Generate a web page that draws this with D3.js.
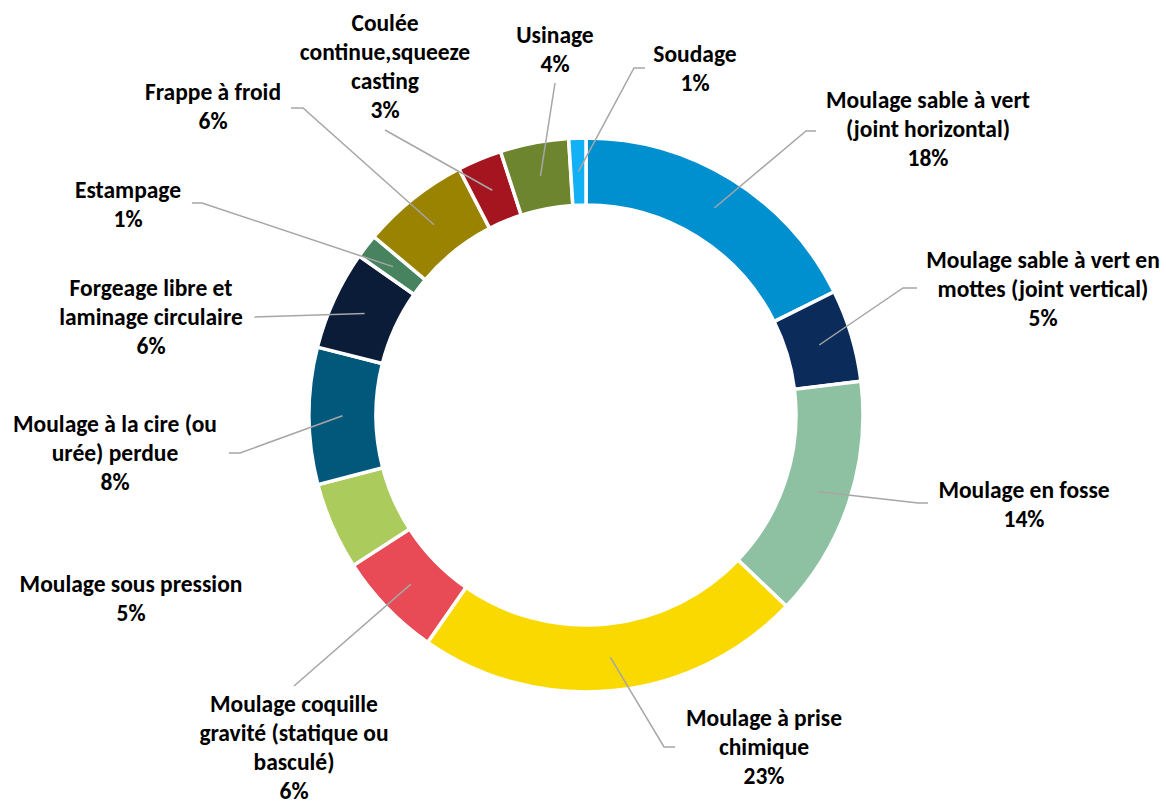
<!DOCTYPE html>
<html>
<head>
<meta charset="utf-8">
<script src="https://cdn.jsdelivr.net/npm/d3@7"></script>
<style>
  body { margin: 0; background: #fff; }
  text { font-family: Calibri, Carlito, Lato, sans-serif; font-weight: bold; fill: #000; }
</style>
</head>
<body>
<div id="container"></div>
<script>
// categories, clockwise from 12 o'clock ("\n" = where the label wraps)
var categories = [
  "Moulage sable à vert\n(joint horizontal)",
  "Moulage sable à vert en\nmottes (joint vertical)",
  "Moulage en fosse",
  "Moulage à prise\nchimique",
  "Moulage coquille\ngravité (statique ou\nbasculé)",
  "Moulage sous pression",
  "Moulage à la cire (ou\nurée) perdue",
  "Forgeage libre et\nlaminage circulaire",
  "Estampage",
  "Frappe à froid",
  "Coulée\ncontinue,squeeze\ncasting",
  "Usinage",
  "Soudage"
];

// share of each process (%)
var values = [17.7, 5.4, 14.1, 22.6, 6.2, 5.1, 8.0, 5.8, 1.4, 6.3, 2.6, 4.0, 1.0];

var colors = ["#008FCF", "#0B2C5A", "#8DC1A1", "#FAD900", "#E84B55", "#ABCC5C",
              "#02587B", "#0A1C38", "#47835F", "#9A8300", "#A5151F", "#6E8530", "#12B1F5"];

// label placement: centre x / first baseline, and leader elbow (ex,ey) + horizontal end hx
var labelPos = [
  {x: 928, y: 108, ex: 806, ey: 131, hx: 816},
  {x: 1043, y: 268, ex: 903, ey: 288, hx: 917},
  {x: 1024, y: 498, ex: 918, ey: 503, hx: 928},
  {x: 764, y: 726, ex: 664, ey: 747, hx: 675},
  {x: 294, y: 712, ex: 294, ey: 686, hx: null},
  {x: 131, y: 592, ex: null},
  {x: 115, y: 432, ex: 240, ey: 453, hx: 229},
  {x: 151, y: 296, ex: 254, ey: 317, hx: null},
  {x: 128, y: 198, ex: 202, ey: 203, hx: 192},
  {x: 213, y: 100, ex: 303, ey: 108, hx: 291},
  {x: 385, y: 31, ex: 385, ey: 130, hx: null},
  {x: 555, y: 43, ex: 555, ey: 83, hx: null},
  {x: 695, y: 62, ex: 634, ey: 68, hx: 645}
];

var width = 1166, height = 805;
var cx = 586, cy = 415;
var outerR = 277, innerR = 210;
var lineH = 29;

var total = d3.sum(values);
var data = categories.map(function(c, i) { return {name: c, value: values[i], i: i}; });

var svg = d3.select("#container")
  .append("svg")
  .attr("width", width)
  .attr("height", height);

var g = svg.append("g")
  .attr("transform", "translate(" + cx + "," + cy + ")");

var pie = d3.pie().sort(null).value(function(d) { return d.value; });
var arc = d3.arc().innerRadius(innerR).outerRadius(outerR);
// leader lines start at the middle of the ring
var midArc = d3.arc().innerRadius((innerR + outerR) / 2).outerRadius((innerR + outerR) / 2);

var arcs = pie(data);

// slices
g.selectAll("path.slice")
  .data(arcs)
  .enter().append("path")
  .attr("class", "slice")
  .attr("d", arc)
  .attr("fill", function(d) { return colors[d.data.i]; })
  .attr("stroke", "#fff")
  .attr("stroke-width", 3.5)
  .attr("stroke-linejoin", "miter");

// leader lines
svg.append("g")
  .selectAll("path")
  .data(arcs.filter(function(d) { return labelPos[d.data.i].ex != null; }))
  .enter().append("path")
  .attr("fill", "none")
  .attr("stroke", "#A6A6A6")
  .attr("stroke-width", 1.5)
  .attr("d", function(d) {
    var p = midArc.centroid(d), L = labelPos[d.data.i];
    var s = "M" + (cx + p[0]) + "," + (cy + p[1]) + "L" + L.ex + "," + L.ey;
    if (L.hx != null) s += "L" + L.hx + "," + L.ey;
    return s;
  });

// labels
var labels = svg.append("g")
  .selectAll("text")
  .data(arcs)
  .enter().append("text")
  .attr("text-anchor", "middle")
  .style("font-size", "23.5px");

labels.each(function(d) {
  var L = labelPos[d.data.i];
  var lines = d.data.name.split("\n");
  lines.push(Math.round(d.data.value / total * 100) + "%");
  var t = d3.select(this);
  lines.forEach(function(line, k) {
    t.append("tspan")
      .attr("x", L.x)
      .attr("y", L.y + k * lineH)
      .text(line);
  });
});
</script>
</body>
</html>
